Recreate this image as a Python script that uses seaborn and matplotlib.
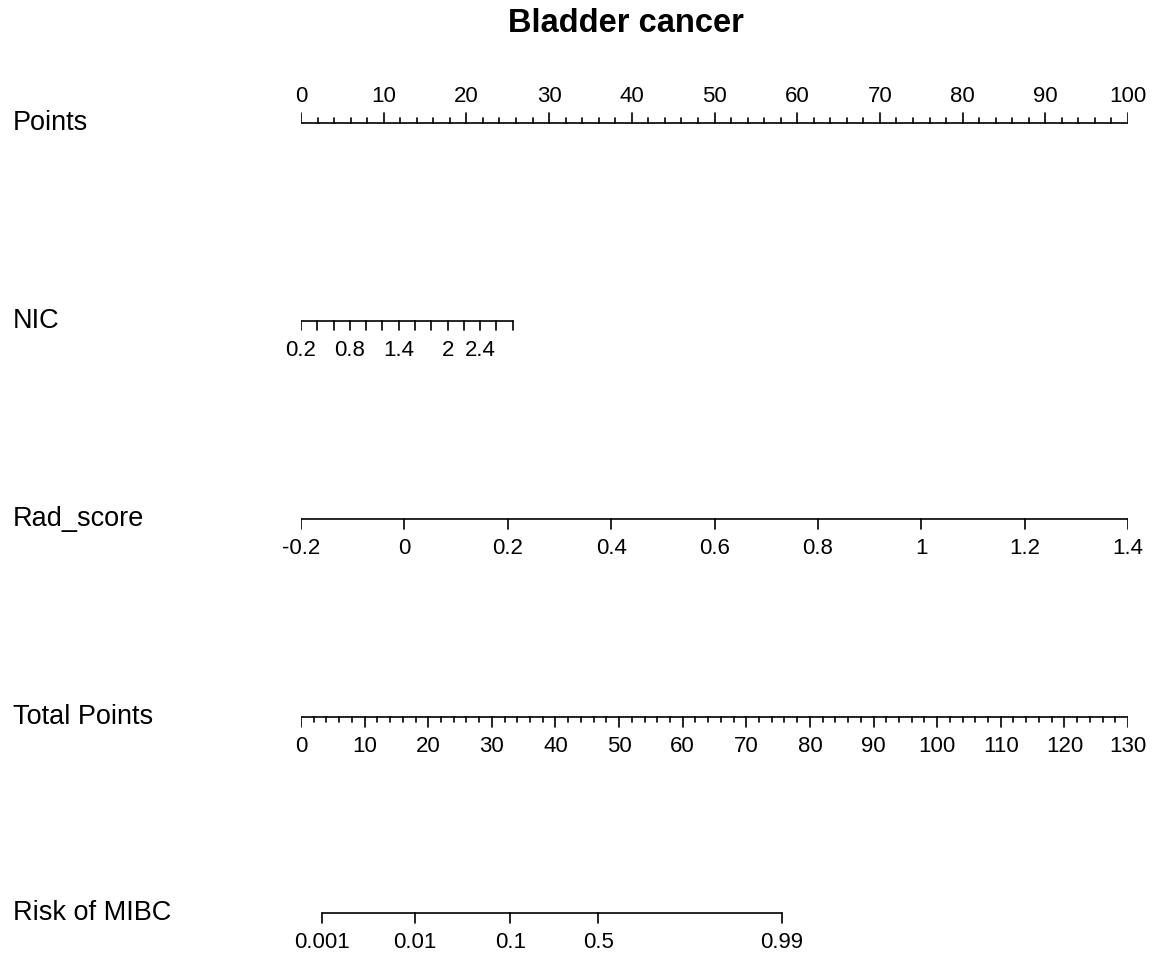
import numpy as np
import matplotlib
matplotlib.use("Agg")
import matplotlib.pyplot as plt
import seaborn as sns

# nomogram scales
points_ticks = np.arange(0, 101, 2)
points_labels = [0, 10, 20, 30, 40, 50, 60, 70, 80, 90, 100]

nic_ticks = np.round(np.arange(0.2, 2.81, 0.2), 1)
nic_labels = [0.2, 0.8, 1.4, 2, 2.4]
nic_max_points = 25.6

rad_ticks = [-0.2, 0, 0.2, 0.4, 0.6, 0.8, 1, 1.2, 1.4]
rad_labels = ["-0.2", "0", "0.2", "0.4", "0.6", "0.8", "1", "1.2", "1.4"]

total_ticks = np.arange(0, 131, 2)
total_labels = list(range(0, 131, 10))

risk_values = [0.001, 0.01, 0.1, 0.5, 0.99]
risk_labels = ["0.001", "0.01", "0.1", "0.5", "0.99"]
risk_slope = 6.28      # total points per logit unit
risk_offset = 46.7     # total points at p = 0.5

rows = ["Points", "NIC", "Rad_score", "Total Points", "Risk of MIBC"]


def nic_pts(v):
    return (np.asarray(v) - 0.2) * nic_max_points / 2.6


def rad_pts(v):
    return (np.asarray(v) + 0.2) * 100 / 1.6


def total_pts(v):
    return np.asarray(v) * 100 / 130


def risk_pts(p):
    p = np.asarray(p)
    return total_pts(risk_slope * np.log(p / (1 - p)) + risk_offset)


sns.set_theme(style="white")
plt.rcParams["font.family"] = ["Liberation Sans", "DejaVu Sans"]
plt.rcParams["text.color"] = "black"

W, H = 1155, 957
fig = plt.figure(figsize=(W / 100, H / 100), dpi=100)
ax = fig.add_axes([301 / W, 0, 827 / W, 1])
ax.set_xlim(0, 100)
ax.set_ylim(H, 0)
ax.axis("off")

lw = 1.2
col = "black"
fs = 16

# row y positions (pixels)
y_pts, y_nic, y_rad, y_tot, y_risk = 123, 321, 519, 717, 913

# Points
ax.plot([0, 100], [y_pts, y_pts], color=col, lw=lw)
for t in points_ticks:
    L = 10 if t % 10 == 0 else 5
    ax.plot([t, t], [y_pts, y_pts - L], color=col, lw=lw)
for t in points_labels:
    ax.text(t, y_pts - 27, str(t), ha="center", va="center", fontsize=fs)

# NIC
xs = nic_pts(nic_ticks)
ax.plot([xs[0], xs[-1]], [y_nic, y_nic], color=col, lw=lw)
for x in xs:
    ax.plot([x, x], [y_nic, y_nic + 9], color=col, lw=lw)
for v in nic_labels:
    ax.text(nic_pts(v), y_nic + 30, f"{v:g}", ha="center", va="center", fontsize=fs)

# Rad_score
xs = rad_pts(rad_ticks)
ax.plot([xs[0], xs[-1]], [y_rad, y_rad], color=col, lw=lw)
for x, lab in zip(xs, rad_labels):
    ax.plot([x, x], [y_rad, y_rad + 10], color=col, lw=lw)
    ax.text(x, y_rad + 29, lab, ha="center", va="center", fontsize=fs)

# Total Points
ax.plot([0, 100], [y_tot, y_tot], color=col, lw=lw)
for t in total_ticks:
    L = 10 if t % 10 == 0 else 5
    x = total_pts(t)
    ax.plot([x, x], [y_tot, y_tot + L], color=col, lw=lw)
for t in total_labels:
    ax.text(total_pts(t), y_tot + 29, str(t), ha="center", va="center", fontsize=fs)

# Risk of MIBC
xs = risk_pts(risk_values)
ax.plot([xs[0], xs[-1]], [y_risk, y_risk], color=col, lw=lw)
for x, lab in zip(xs, risk_labels):
    ax.plot([x, x], [y_risk, y_risk + 10], color=col, lw=lw)
    ax.text(x, y_risk + 30, lab, ha="center", va="center", fontsize=fs)

# row labels
for name, y in zip(rows, [y_pts, y_nic, y_rad, y_tot, y_risk]):
    fig.text(13 / W, 1 - y / H, name, ha="left", va="center", fontsize=19.5)

fig.text(626 / W, 1 - 23 / H, "Bladder cancer", ha="center", va="center",
         fontsize=23.5, fontweight="bold")

fig.savefig("out.png", dpi=100, facecolor="white")
